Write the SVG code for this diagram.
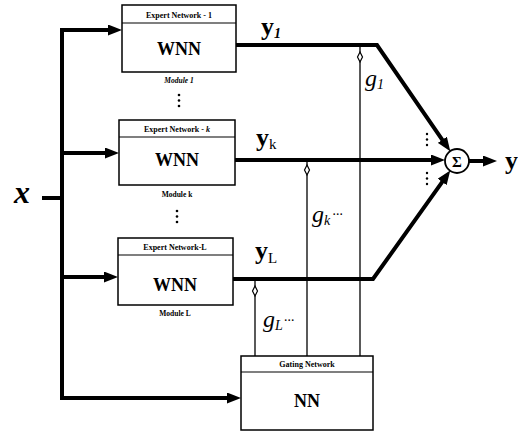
<svg xmlns="http://www.w3.org/2000/svg" width="518" height="432" viewBox="0 0 518 432">
<style>
  .box{fill:#fff;stroke:#000;stroke-width:1.5}
  .hdr{stroke:#000;stroke-width:1.2}
  .thick{fill:none;stroke:#000;stroke-width:4;stroke-linejoin:miter}
  .thin{fill:none;stroke:#000;stroke-width:1.3}
  .dia{fill:#fff;stroke:#000;stroke-width:1.2}
  .htxt{font-family:"Liberation Serif",serif;font-size:8px;font-weight:bold;text-anchor:middle}
  .big{font-family:"Liberation Serif",serif;font-size:18px;font-weight:bold;text-anchor:middle}
  .mod{font-family:"Liberation Serif",serif;font-size:7.5px;font-weight:bold;text-anchor:middle}
  .yl{font-family:"Liberation Serif",serif;font-size:26px;font-weight:bold}
  .sub{font-family:"Liberation Serif",serif;font-size:15px;font-weight:normal}
  .gl{font-family:"Liberation Serif",serif;font-size:24px;font-style:italic}
  .gsub{font-family:"Liberation Serif",serif;font-size:14px;font-style:italic}
  .dots{font-family:"Liberation Serif",serif;font-size:14px}
  .dot{fill:#000}
</style>
<defs>
  <marker id="ah" markerUnits="userSpaceOnUse" markerWidth="14" markerHeight="11" refX="7" refY="5.5" orient="auto">
    <path d="M0,0 L14,5.5 L0,11 z" fill="#000"/>
  </marker>
</defs>

<g id="connectors">
  <!-- input bus -->
  <path class="thick" d="M42 198 H62"/>
  <path class="thick" d="M62 28 V400"/>
  <path class="thick" d="M60 30 H115" marker-end="url(#ah)"/>
  <path class="thick" d="M62 153 H112" marker-end="url(#ah)"/>
  <path class="thick" d="M62 277 H111" marker-end="url(#ah)"/>
  <path class="thick" d="M60 398 H234" marker-end="url(#ah)"/>
  <!-- expert outputs -->
  <path class="thick" d="M236 45 H377 L446.3 145.6" marker-end="url(#ah)"/>
  <path class="thick" d="M235 160 H438" marker-end="url(#ah)"/>
  <path class="thick" d="M233 279 H373 L446.2 176.3" marker-end="url(#ah)"/>
  <path class="thick" d="M469 161 H490" marker-end="url(#ah)"/>
  <!-- gating lines -->
  <path class="thin" d="M255 356 V280"/>
  <path class="thin" d="M307 356 V161"/>
  <path class="thin" d="M360 356 V46"/>
  <polygon class="dia" points="255,286 257.5,291 255,296 252.5,291"/>
  <polygon class="dia" points="307,165 309.5,170 307,175 304.5,170"/>
  <polygon class="dia" points="360,52 362.5,57 360,62 357.5,57"/>
</g>

<g id="input-x">
  <text x="14" y="203" style="font-family:'Liberation Serif',serif;font-size:32px;font-weight:bold;font-style:italic">x</text>
</g>

<g id="expert-1">
  <rect class="box" x="122" y="5" width="114" height="67"/>
  <line class="hdr" x1="122" y1="23" x2="236" y2="23"/>
  <text class="htxt" x="179" y="18">Expert Network - 1</text>
  <text class="big" x="179" y="55">WNN</text>
  <text class="mod" x="179" y="83" font-style="italic">Module 1</text>
  <circle class="dot" cx="179" cy="95" r="1.3"/>
  <circle class="dot" cx="179" cy="100.5" r="1.3"/>
  <circle class="dot" cx="179" cy="106" r="1.3"/>
</g>

<g id="expert-k">
  <rect class="box" x="119" y="120" width="116" height="65"/>
  <line class="hdr" x1="119" y1="137" x2="235" y2="137"/>
  <text class="htxt" x="177" y="132">Expert Network - <tspan font-style="italic">k</tspan></text>
  <text class="big" x="177" y="166">WNN</text>
  <text class="mod" x="177" y="197">Module k</text>
  <circle class="dot" cx="177" cy="211" r="1.3"/>
  <circle class="dot" cx="177" cy="216.5" r="1.3"/>
  <circle class="dot" cx="177" cy="222" r="1.3"/>
</g>

<g id="expert-L">
  <rect class="box" x="118" y="238" width="115" height="67"/>
  <line class="hdr" x1="118" y1="255" x2="233" y2="255"/>
  <text class="htxt" x="175" y="250">Expert Network-L</text>
  <text class="big" x="175" y="291">WNN</text>
  <text class="mod" x="175" y="316">Module L</text>
</g>

<g id="gating">
  <rect class="box" x="241" y="356" width="132" height="74"/>
  <line class="hdr" x1="241" y1="372" x2="373" y2="372"/>
  <text class="htxt" x="307" y="367">Gating Network</text>
  <text class="big" x="307" y="407">NN</text>
</g>

<g id="sum">
  <circle cx="457" cy="161" r="12" fill="#fff" stroke="#000" stroke-width="1.8"/>
  <text x="457" y="166.5" style="font-family:'Liberation Serif',serif;font-size:15px;font-weight:bold;text-anchor:middle">Σ</text>
  <circle class="dot" cx="427" cy="134" r="1.2"/>
  <circle class="dot" cx="427" cy="139.5" r="1.2"/>
  <circle class="dot" cx="427" cy="145" r="1.2"/>
  <circle class="dot" cx="427" cy="173" r="1.2"/>
  <circle class="dot" cx="427" cy="178.5" r="1.2"/>
  <circle class="dot" cx="427" cy="184" r="1.2"/>
</g>

<g id="labels">
  <text class="yl" x="261" y="35">y<tspan class="gsub" dy="3">1</tspan></text>
  <text class="yl" x="256" y="146">y<tspan class="sub" dy="3">k</tspan></text>
  <text class="yl" x="255" y="259">y<tspan class="sub" dy="4">L</tspan></text>
  <text class="yl" x="505" y="169">y</text>
  <text class="gl" x="365" y="86">g<tspan class="gsub" dy="3">1</tspan></text>
  <text class="gl" x="312" y="222">g<tspan class="gsub" dy="3">k</tspan><tspan class="dots" dy="-6" dx="2">···</tspan></text>
  <text class="gl" x="263" y="327">g<tspan class="gsub" dy="3">L</tspan><tspan class="dots" dy="-5" dx="1">···</tspan></text>
</g>
</svg>
